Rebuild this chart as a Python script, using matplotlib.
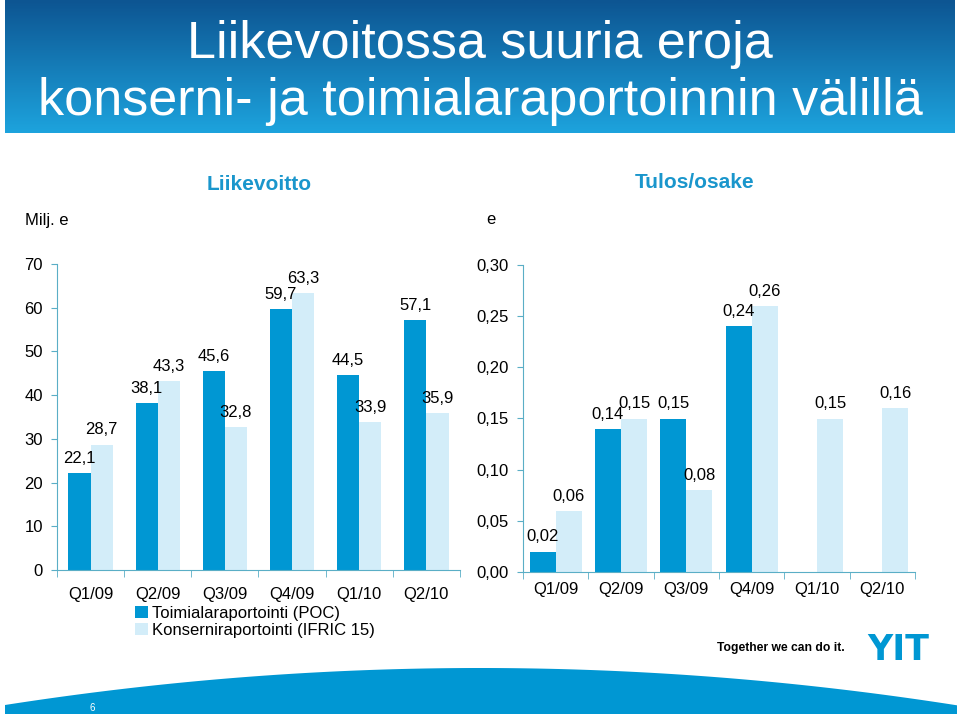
import matplotlib.pyplot as plt
import numpy as np
from matplotlib.colors import LinearSegmentedColormap
from matplotlib.patches import Polygon

quarters = ["Q1/09", "Q2/09", "Q3/09", "Q4/09", "Q1/10", "Q2/10"]
series_names = ["Toimialaraportointi (POC)", "Konserniraportointi (IFRIC 15)"]

# Liikevoitto, milj. e
ebit_poc = [22.1, 38.1, 45.6, 59.7, 44.5, 57.1]
ebit_ifric = [28.7, 43.3, 32.8, 63.3, 33.9, 35.9]

# Tulos/osake, e
eps_poc = [0.02, 0.14, 0.15, 0.24, np.nan, np.nan]
eps_ifric = [0.06, 0.15, 0.08, 0.26, 0.15, 0.16]

DARK = "#0097d3"
LIGHT = "#d3edf9"
AXIS = "#5aaec6"
HEAD = "#1a96cc"

plt.rcParams['font.family'] = ['Liberation Sans', 'DejaVu Sans']

fig = plt.figure(figsize=(9.6, 7.16), dpi=100)

# background layer in pixel coords (banner, swoosh, logo)
bg = fig.add_axes([0, 0, 1, 1], zorder=0)
grad = np.linspace(0, 1, 100).reshape(-1, 1)
cmap = LinearSegmentedColormap.from_list('banner', ['#0d5592', '#1da3dd'])
bg.imshow(grad, cmap=cmap, extent=(5, 955, 133, 0), aspect='auto')
bg.set_xlim(0, 960)
bg.set_ylim(716, 0)
bg.axis('off')

bg.text(480, 58, "Liikevoitossa suuria eroja", color='white', fontsize=37.5,
        ha='center', va='baseline')
bg.text(480, 115, "konserni- ja toimialaraportoinnin välillä", color='white',
        fontsize=37.5, ha='center', va='baseline')

bg.text(259, 185, "Liikevoitto", color=HEAD, fontsize=15, fontweight='bold',
        ha='center', va='center')
bg.text(695, 183, "Tulos/osake", color=HEAD, fontsize=15, fontweight='bold',
        ha='center', va='center')
bg.text(25, 220, "Milj. e", fontsize=12, ha='left', va='center')
bg.text(491, 219, "e", fontsize=12, ha='center', va='center')

# bottom swoosh
xs = np.linspace(5, 957, 200)
top = 668 + 1.64e-4 * (xs - 480) ** 2
pts = np.column_stack([np.r_[xs, xs[::-1]], np.r_[top, np.full_like(xs, 714)]])
bg.add_patch(Polygon(pts, closed=True, color=DARK, lw=0))
bg.text(92, 708, "6", color='white', fontsize=7, ha='center', va='center')

# slogan + logo
bg.text(717, 648, "Together we can do it.", fontsize=8.7, fontweight='bold',
        ha='left', va='center')
bg.text(898, 660, "YIT", color=DARK, fontsize=25, fontweight='bold',
        family='DejaVu Sans', ha='center', va='baseline')


def style_axes(ax, pad_x):
    for s in ['top', 'right']:
        ax.spines[s].set_visible(False)
    for s in ['left', 'bottom']:
        ax.spines[s].set_color(AXIS)
    ax.patch.set_alpha(0)
    ax.set_xlim(-0.5, 5.5)
    ax.set_xticks(np.arange(6))
    ax.set_xticklabels(quarters)
    ax.set_xticks(np.arange(-0.5, 6, 1), minor=True)
    ax.tick_params(axis='x', which='major', length=0, pad=pad_x, labelsize=12)
    ax.tick_params(axis='x', which='minor', length=5, color=AXIS)
    ax.tick_params(axis='y', length=4, color=AXIS, pad=6, labelsize=12)


def add_labels(ax, xpos, vals, fmt):
    for xi, v in zip(xpos, vals):
        if np.isnan(v):
            continue
        ax.annotate(fmt.format(v).replace('.', ','), (xi, v), xytext=(0, 10.5),
                    textcoords='offset points', ha='center', va='center', fontsize=12)


x = np.arange(len(quarters))

# left chart: Liikevoitto
ax1 = fig.add_axes([57 / 960, 1 - 570 / 716, 403 / 960, 306 / 716], zorder=1)
w = 0.33
ax1.bar(x - w / 2, ebit_poc, w, color=DARK, label=series_names[0])
ax1.bar(x + w / 2, ebit_ifric, w, color=LIGHT, label=series_names[1])
ax1.set_ylim(0, 70)
ax1.set_yticks(range(0, 71, 10))
style_axes(ax1, 12)
add_labels(ax1, x - w / 2, ebit_poc, "{:.1f}")
add_labels(ax1, x + w / 2, ebit_ifric, "{:.1f}")
ax1.legend(loc='upper left', bbox_to_anchor=(135 / 960, 1 - 606 / 716),
           bbox_transform=fig.transFigure, frameon=False, fontsize=12,
           handlelength=0.75, handleheight=0.75, handletextpad=0.3,
           labelspacing=0.1, borderpad=0, borderaxespad=0)

# right chart: Tulos/osake
ax2 = fig.add_axes([523 / 960, 1 - 572 / 716, 392 / 960, 307 / 716], zorder=1)
w = 0.4
ax2.bar(x - w / 2, eps_poc, w, color=DARK)
ax2.bar(x + w / 2, eps_ifric, w, color=LIGHT)
ax2.set_ylim(0, 0.30)
yt = np.arange(0, 0.301, 0.05)
ax2.set_yticks(yt)
ax2.set_yticklabels([f"{v:.2f}".replace('.', ',') for v in yt])
style_axes(ax2, 7)
add_labels(ax2, x - w / 2, eps_poc, "{:.2f}")
add_labels(ax2, x + w / 2, eps_ifric, "{:.2f}")

fig.savefig('out.png', dpi=100)
